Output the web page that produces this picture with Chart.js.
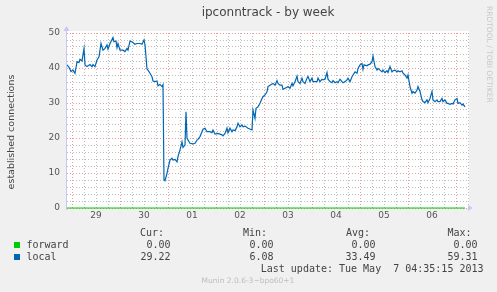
<!DOCTYPE html>
<html>
<head>
<meta charset="utf-8">
<script src="https://cdn.jsdelivr.net/npm/chart.js@4.4.1/dist/chart.umd.min.js"></script>
<style>
  html, body { margin: 0; padding: 0; background: #f0f0f0; }
  #wrap { width: 497px; height: 292px; position: relative; }
</style>
</head>
<body>
<div id="wrap"><canvas id="canvas1" width="497" height="292"></canvas></div>
<script>
// hours counted from 29 Apr 00:00
const dayLabels = ['29', '30', '01', '02', '03', '04', '05', '06'];

const localHours = [
  -2.5, -1.5, -0.5, 0.5, 1.5, 2.5, 3.5, 4, 5, 6, 6.5, 7.5, 9, 10, 10.5, 11.5, 12.5, 13.5, 14.5, 15.5,
  16.5, 17.5, 18, 19, 20.5, 21, 22, 22.5, 23, 24, 25.5, 26.5, 27.5, 28, 29, 30, 31.5, 32.5, 34, 35,
  36, 36.5, 37, 37.5, 38, 39, 40, 40.5, 41.5, 42.5, 43, 44, 45, 45.5, 46, 46.5, 47.5, 48, 49, 50,
  50.5, 51.5, 52.5, 53, 54, 55, 55.5, 56.5, 57, 57.5, 59, 60.5, 61.5, 62.5, 63, 64, 65, 65.5, 66.5, 67.5,
  69, 70, 70.5, 71.5, 73, 75, 75.5, 76.5, 77.5, 78, 79, 80, 80.5, 81.5, 82.5, 83, 84, 85, 85.5, 86.5,
  88, 90, 90.5, 91.5, 92, 93, 94, 95, 95.5, 96.5, 97.5, 98, 99, 100.5, 101.5, 102.5, 103, 104, 105, 105.5,
  106.5, 107.5, 108, 109, 110, 110.5, 111.5, 112.5, 113, 114, 115, 115.5, 116.5, 117.5, 118, 119, 120, 120.5, 121.5, 122.5,
  123, 124, 125, 125.5, 126.5, 127.5, 128, 129, 130, 130.5, 131.5, 132.5, 133, 134, 135, 135.5, 136.5, 137.5, 138, 139,
  140, 140.5, 141.5, 142.5, 143, 144, 145, 145.5, 146, 147.5, 148, 149, 150, 150.5, 151.5, 152.5, 153, 154, 155, 155.5,
  156.5, 157.5, 158, 159, 160, 160.5, 161.5, 162.5, 163, 164, 165, 165.5, 166.5, 167.5, 168, 169, 170, 170.5, 171.5, 172.5,
  173, 174, 175, 175.5, 176.5, 177.5, 178, 179, 180, 180.5, 181.5, 182.5, 183, 184, 185, 185.5, 186.5, 187.5, 188, 189,
  190, 190.5, 191.5, 192.5, 193, 194, 195, 195.5, 196.5
];
const localValues = [
  40.9, 40.2, 39.0, 39.4, 38.5, 41.8, 41.6, 42.5, 42.0, 45.6, 40.9, 40.4, 41.0, 40.4, 41.0, 40.4, 42.3, 43.2, 47.0, 45.1,
  45.6, 46.6, 45.4, 47.0, 48.7, 47.5, 47.7, 45.8, 47.0, 45.1, 45.1, 44.7, 45.6, 45.1, 47.7, 47.5, 46.8, 47.0, 47.0, 46.8,
  48.0, 46.6, 43.2, 39.7, 39.4, 38.5, 37.5, 36.3, 36.1, 36.3, 34.9, 35.3, 34.7, 35.2, 8.0, 7.8, 9.9, 11.3, 13.7, 14.2,
  13.7, 13.9, 13.2, 14.7, 16.6, 18.9, 17.3, 18.0, 27.5, 19.9, 18.5, 18.3, 18.5, 19.4, 19.6, 20.4, 21.8, 22.5, 22.8, 21.8,
  21.8, 21.5, 22.3, 21.1, 21.3, 20.9, 20.6, 21.3, 22.8, 21.5, 22.8, 21.8, 22.3, 22.1, 23.2, 24.2, 23.2, 23.7, 23.2, 23.4,
  22.8, 22.3, 28.0, 25.6, 28.5, 28.9, 29.9, 31.3, 31.8, 32.3, 33.2, 34.7, 35.1, 35.6, 35.1, 36.4, 35.6, 35.1, 35.1, 33.9,
  34.2, 34.5, 34.7, 34.2, 35.6, 34.9, 36.1, 37.7, 36.1, 35.6, 37.1, 36.1, 35.6, 37.1, 37.6, 36.1, 37.1, 36.1, 36.1, 36.1,
  37.1, 36.1, 36.8, 36.6, 36.8, 38.7, 36.8, 36.1, 35.8, 36.4, 35.8, 36.1, 35.8, 36.8, 36.1, 35.8, 36.1, 36.6, 37.1, 36.1,
  37.5, 38.0, 38.9, 38.5, 39.9, 40.9, 41.3, 39.6, 40.9, 40.6, 40.9, 41.1, 41.8, 43.4, 40.4, 39.4, 39.9, 39.4, 38.9, 39.4,
  38.7, 39.2, 38.7, 40.4, 38.9, 39.2, 39.4, 38.9, 39.2, 38.9, 39.2, 38.5, 38.0, 37.1, 38.0, 34.7, 32.8, 33.3, 32.8, 33.7,
  34.7, 33.3, 30.9, 30.4, 30.1, 30.9, 30.1, 31.3, 33.3, 30.9, 30.4, 30.9, 30.4, 30.4, 31.3, 30.4, 30.9, 29.9, 29.9, 29.6,
  29.9, 29.7, 30.9, 31.3, 29.9, 30.1, 29.4, 29.7, 28.9
];

const forwardHours = [-2.5, 196.5];
const forwardValues = [0, 0];

const legendRows = [
  { name: 'forward', color: '#00cc00', cur: '0.00', min: '0.00', avg: '0.00', max: '0.00' },
  { name: 'local', color: '#0066b3', cur: '29.22', min: '6.08', avg: '33.49', max: '59.31' }
];

const RED = '#eb9a9a';
const GRAY = '#bdbdbd';

const munin = {
  id: 'munin',
  beforeDraw(chart) {
    const ctx = chart.ctx;
    const a = chart.chartArea;
    ctx.save();
    ctx.fillStyle = '#f0f0f0';
    ctx.fillRect(0, 0, chart.width, chart.height);
    ctx.fillStyle = '#ffffff';
    ctx.fillRect(a.left, a.top - 2, a.right - a.left, a.bottom - a.top + 2);
    ctx.restore();
  },
  afterDraw(chart) {
    const ctx = chart.ctx;
    const a = chart.chartArea;
    ctx.save();
    // axis lines and arrows
    ctx.strokeStyle = '#c8c8f8';
    ctx.fillStyle = '#c8c8f8';
    ctx.lineWidth = 1;
    ctx.beginPath();
    ctx.moveTo(a.left - 0.5, a.bottom + 2);
    ctx.lineTo(a.left - 0.5, a.top - 3);
    ctx.stroke();
    ctx.beginPath();
    ctx.moveTo(a.left - 3.5, a.top - 2);
    ctx.lineTo(a.left + 2.5, a.top - 2);
    ctx.lineTo(a.left - 0.5, a.top - 7);
    ctx.fill();
    ctx.beginPath();
    ctx.moveTo(a.right - 1, a.bottom - 3);
    ctx.lineTo(a.right - 1, a.bottom + 3);
    ctx.lineTo(a.right + 4, a.bottom);
    ctx.fill();

    // title
    ctx.fillStyle = '#444';
    ctx.font = '12px "DejaVu Sans"';
    ctx.textAlign = 'center';
    ctx.textBaseline = 'middle';
    ctx.fillText('ipconntrack - by week', (a.left + a.right) / 2, 13);

    // y title
    ctx.save();
    ctx.translate(12, 132);
    ctx.rotate(-Math.PI / 2);
    ctx.font = '9.5px "DejaVu Sans"';
    ctx.fillStyle = '#444';
    ctx.fillText('established connections', 0, 0);
    ctx.restore();

    // rrdtool watermark
    ctx.save();
    ctx.translate(488.5, 6);
    ctx.rotate(Math.PI / 2);
    ctx.font = '7.5px "DejaVu Sans"';
    ctx.fillStyle = '#c8c8c8';
    ctx.textAlign = 'left';
    ctx.fillText('RRDTOOL / TOBI OETIKER', 0, 0);
    ctx.restore();

    // legend
    ctx.font = '10px "DejaVu Sans Mono"';
    ctx.fillStyle = '#444';
    ctx.textAlign = 'left';
    ctx.fillText('Cur:', 140, 233);
    ctx.fillText('Min:', 243, 233);
    ctx.fillText('Avg:', 346, 233);
    ctx.fillText('Max:', 447.5, 233);
    legendRows.forEach((r, i) => {
      const y = 245.5 + i * 12;
      ctx.fillStyle = r.color;
      ctx.fillRect(14, y - 3.5, 6, 6);
      ctx.fillStyle = '#444';
      ctx.textAlign = 'left';
      ctx.fillText(r.name, 26.5, y);
      ctx.textAlign = 'right';
      ctx.fillText(r.cur, 170.5, y);
      ctx.fillText(r.min, 273.5, y);
      ctx.fillText(r.avg, 375.5, y);
      ctx.fillText(r.max, 477.5, y);
    });
    ctx.textAlign = 'right';
    ctx.fillText('Last update: Tue May  7 04:35:15 2013', 483.5, 269.5);
    ctx.textAlign = 'center';
    ctx.font = '7.5px "DejaVu Sans"';
    ctx.fillStyle = '#bdbdbd';
    ctx.fillText('Munin 2.0.6-3~bpo60+1', 248, 281.5);
    ctx.restore();
  }
};

const config = {
  type: 'line',
  data: {
    datasets: [
      {
        label: 'local',
        data: localHours.map((h, i) => ({ x: h, y: localValues[i] })),
        borderColor: '#0066b3',
        borderWidth: 1.2,
        pointRadius: 0,
        tension: 0,
        fill: false
      },
      {
        label: 'forward',
        data: forwardHours.map((h, i) => ({ x: h, y: forwardValues[i] })),
        borderColor: '#00cc00',
        borderWidth: 1,
        pointRadius: 0,
        fill: false,
        clip: false
      }
    ]
  },
  options: {
    responsive: false,
    animation: false,
    layout: { padding: { top: 33, right: 28, left: 0, bottom: 64 } },
    plugins: { legend: { display: false }, tooltip: { enabled: false } },
    scales: {
      x: {
        type: 'linear',
        min: -2.5,
        max: 198.5,
        afterFit: (s) => { s.height = 20; },
        afterBuildTicks: (s) => {
          const t = [];
          for (let h = 0; h <= 198; h += 6) t.push({ value: h });
          s.ticks = t;
        },
        ticks: {
          autoSkip: false,
          maxRotation: 0,
          padding: 2,
          color: '#555',
          font: { family: 'DejaVu Sans', size: 9 },
          callback: (v) => (v % 24 === 12 ? dayLabels[(v - 12) / 24] : '')
        },
        grid: {
          drawTicks: false,
          lineWidth: 1,
          color: (c) => (c.tick && c.tick.value % 24 === 0 ? RED : GRAY)
        },
        border: { display: false, dash: [1, 2] }
      },
      y: {
        min: 0,
        max: 50,
        afterFit: (s) => { s.width = 67; },
        afterBuildTicks: (s) => {
          const t = [];
          for (let v = 0; v <= 50; v += 2) t.push({ value: v });
          s.ticks = t;
        },
        ticks: {
          autoSkip: false,
          padding: 7,
          color: '#555',
          font: { family: 'DejaVu Sans', size: 9 },
          callback: (v) => (v % 10 === 0 ? String(v) : '')
        },
        grid: {
          drawTicks: false,
          lineWidth: 1,
          color: (c) => (c.tick && c.tick.value % 10 === 0 ? RED : GRAY)
        },
        border: { display: false, dash: [1, 2] }
      }
    }
  },
  plugins: [munin]
};

new Chart(document.getElementById('canvas1'), config);
</script>
</body>
</html>
